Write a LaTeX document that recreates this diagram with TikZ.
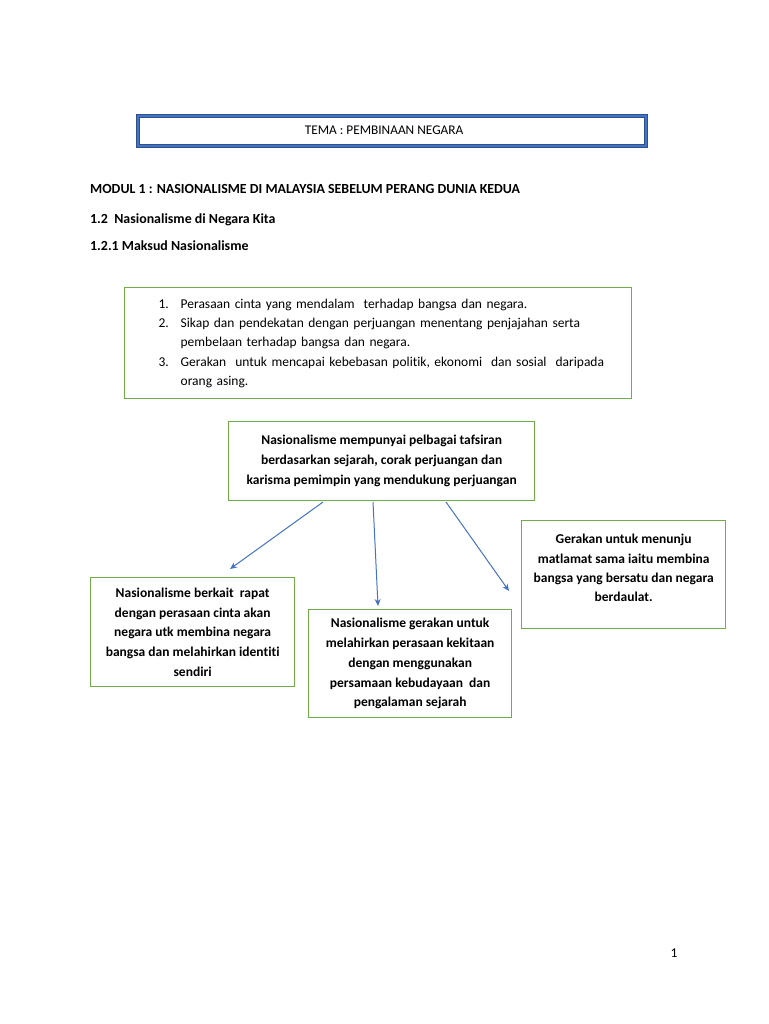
\documentclass[tikz,border=0pt]{standalone}
\usepackage{fontspec}
\setmainfont[Ligatures=NoCommon]{Carlito}
\usetikzlibrary{arrows.meta}
\definecolor{gbox}{HTML}{70AD47}
\definecolor{arr}{HTML}{4472C4}
\definecolor{tblue}{HTML}{4472C4}
\definecolor{tnavy}{HTML}{2F528F}
\tikzset{
  gbox/.style={draw=gbox, line width=1.3pt, fill=white, align=center, inner sep=0pt,
    font=\fontsize{13.5}{19.8}\selectfont\bfseries, anchor=north west},
  head/.style={anchor=base west, inner sep=0pt, font=\fontsize{13.9}{15}\selectfont\bfseries},
  conn/.style={draw=arr, line width=1pt, -{Stealth[length=7pt,width=6pt]}},
}
\begin{document}
\begin{tikzpicture}[x=1pt,y=-1pt]
\useasboundingbox (0,0) rectangle (768,1024);
% title
\node[draw=tnavy, double=tblue, double distance=2.6pt, line width=0.9pt, fill=white,
  minimum width=508pt, minimum height=30pt, inner sep=0pt] (title) at (392,131) {};
\node[inner sep=0pt, font=\fontsize{13.3}{15}\selectfont] (titletext) at (384,130) {TEMA : PEMBINAAN NEGARA};
% headings
\node[head] (h1) at (90,194) {MODUL 1 : NASIONALISME DI MALAYSIA SEBELUM PERANG DUNIA KEDUA};
\node[head] (h2) at (90,223) {1.2\ \ Nasionalisme di Negara Kita};
\node[head] (h3) at (90,251) {1.2.1 Maksud Nasionalisme};
% box 1
\node[gbox, align=left, text width=439pt, inner xsep=34pt, minimum height=111pt,
  font=\fontsize{13.5}{19.2}\selectfont] (b1) at (124,287)
{\begin{tabular}{@{}p{22pt}@{}l@{}}
1. & Perasaan cinta yang mendalam\ \ terhadap bangsa dan negara.\\
2. & Sikap dan pendekatan dengan perjuangan menentang penjajahan serta\\
   & pembelaan terhadap bangsa dan negara.\\
3. & Gerakan\ \ untuk mencapai kebebasan politik, ekonomi\ \ dan sosial\ \ daripada\\
   & orang asing.
\end{tabular}};
% box 2
\node[gbox, minimum width=306pt, minimum height=79pt] (b2) at (228,421)
{Nasionalisme mempunyai pelbagai tafsiran\\ berdasarkan sejarah, corak perjuangan dan\\ karisma pemimpin yang mendukung perjuangan};
% box 3
\node[gbox, minimum width=204pt, minimum height=109pt] (b3) at (90,577)
{Nasionalisme berkait\ \ rapat\\ dengan perasaan cinta akan\\ negara utk membina negara\\ bangsa dan melahirkan identiti\\ sendiri};
% box 4
\node[gbox, minimum width=203pt, minimum height=108pt] (b4) at (308,609)
{Nasionalisme gerakan untuk\\ melahirkan perasaan kekitaan\\ dengan menggunakan\\ persamaan kebudayaan\ \ dan\\ pengalaman sejarah};
% box 5
\node[gbox, minimum width=204pt, minimum height=108pt, font=\fontsize{13.5}{19.2}\selectfont\bfseries] (b5) at (521,520)
{Gerakan untuk menunju\\ matlamat sama iaitu membina\\ bangsa yang bersatu dan negara\\ berdaulat.\\[-6pt]};
% connectors
\coordinate (s1) at (323,502);
\coordinate (e1) at (230,569);
\coordinate (s2) at (373,502);
\coordinate (e2) at (378,606);
\coordinate (s3) at (446,502);
\coordinate (e3) at (509,591);
\draw[conn] (s1) -- (e1);
\draw[conn] (s2) -- (e2);
\draw[conn] (s3) -- (e3);
% page number
\node[anchor=base, inner sep=0pt, font=\fontsize{13.5}{15}\selectfont] (pg) at (674,957) {1};
\end{tikzpicture}
\end{document}
